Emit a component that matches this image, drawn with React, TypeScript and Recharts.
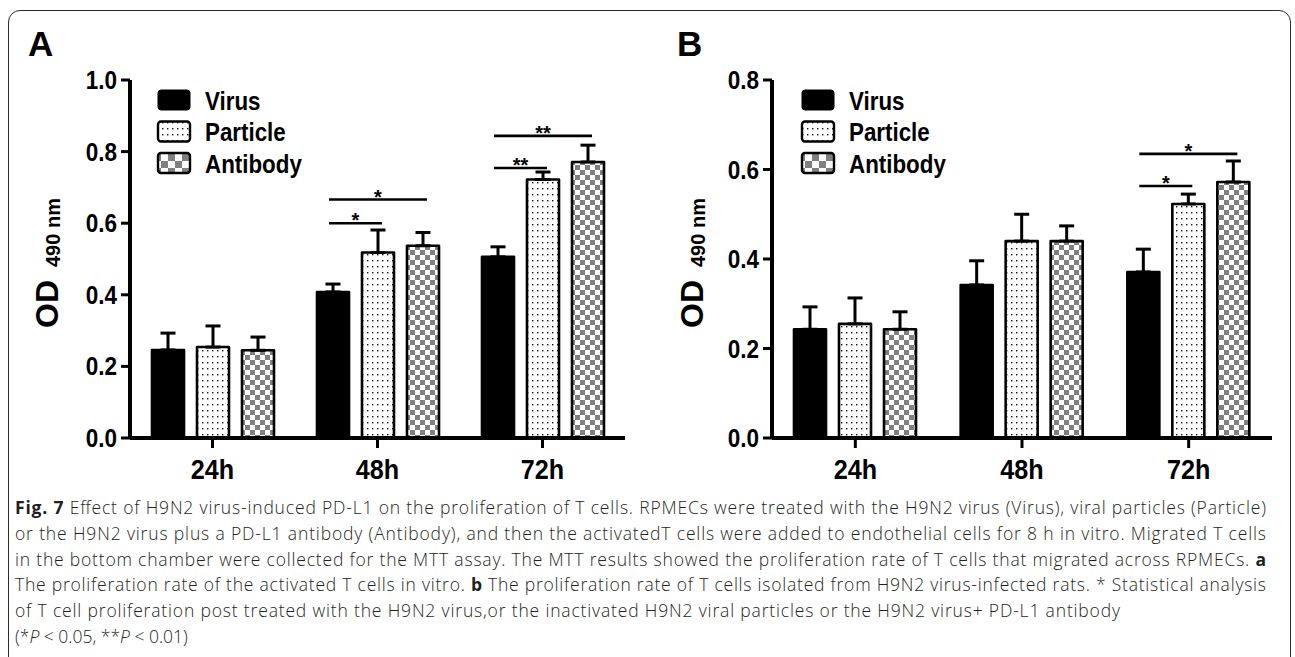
import React from "react";
import { BarChart, Bar, XAxis, YAxis, ErrorBar } from "recharts";

const categories = ["24h", "48h", "72h"];
const seriesNames = ["Virus", "Particle", "Antibody"];

// panel A: activated T cells in vitro
const virusA = [0.246, 0.408, 0.506];
const particleA = [0.254, 0.518, 0.722];
const antibodyA = [0.245, 0.537, 0.771];
const virusErrA = [0.047, 0.022, 0.028];
const particleErrA = [0.059, 0.063, 0.021];
const antibodyErrA = [0.037, 0.037, 0.047];
const ticksA = [0, 0.2, 0.4, 0.6, 0.8, 1.0];

// panel B: T cells from infected rats
const virusB = [0.243, 0.342, 0.371];
const particleB = [0.255, 0.44, 0.523];
const antibodyB = [0.243, 0.44, 0.572];
const virusErrB = [0.05, 0.054, 0.051];
const particleErrB = [0.058, 0.06, 0.022];
const antibodyErrB = [0.039, 0.034, 0.047];
const ticksB = [0, 0.2, 0.4, 0.6, 0.8];

// significance brackets (Virus vs. the other group), level in OD units
const sigA = [
  { cat: "48h", vs: "Particle", level: 0.6, mark: "*" },
  { cat: "48h", vs: "Antibody", level: 0.666, mark: "*" },
  { cat: "72h", vs: "Particle", level: 0.754, mark: "**" },
  { cat: "72h", vs: "Antibody", level: 0.844, mark: "**" },
];
const sigB = [
  { cat: "72h", vs: "Particle", level: 0.563, mark: "*" },
  { cat: "72h", vs: "Antibody", level: 0.635, mark: "*" },
];

const FONT = "'Liberation Sans', Arial, Helvetica, sans-serif";
const CAPTION_FONT = "'Open Sans', 'Noto Sans', sans-serif";
const BAR = 32;
const GAP = 13;

const fills: Record<string, string> = {
  Virus: "#000",
  Particle: "url(#dotsFill)",
  Antibody: "url(#checkFill)",
};
const legendFills: Record<string, string> = {
  Virus: "#000",
  Particle: "url(#dotsFill)",
  Antibody: "url(#checkLegend)",
};

function buildRows(vals: number[][], errs: number[][]) {
  return categories.map((cat, i) => {
    const row: any = { cat };
    seriesNames.forEach((s, k) => {
      row[s] = vals[k][i];
      row[s + "Err"] = [0, errs[k][i]];
    });
    return row;
  });
}

const rowsA = buildRows([virusA, particleA, antibodyA], [virusErrA, particleErrA, antibodyErrA]);
const rowsB = buildRows([virusB, particleB, antibodyB], [virusErrB, particleErrB, antibodyErrB]);

function makeShape(series: string, k: number, sigs: typeof sigA) {
  return (p: any) => {
    const { x, y, width, height, payload } = p;
    const v = payload[series];
    const unit = v ? height / v : 0;
    const base = y + height;
    const mid = x + width / 2;
    const virusMid = mid - k * (width + GAP);
    const marks = sigs.filter((s) => s.cat === payload.cat && s.vs === series);
    return (
      <g>
        <rect
          x={x}
          y={y}
          width={width}
          height={height}
          fill={fills[series]}
          stroke="#000"
          strokeWidth={2.6}
          strokeLinejoin="round"
        />
        {marks.map((s, j) => {
          const ly = base - s.level * unit;
          const x1 = virusMid - 4;
          const x2 = mid + 4;
          return (
            <g key={j}>
              <line x1={x1} x2={x2} y1={ly} y2={ly} stroke="#000" strokeWidth={2.6} />
              <text
                x={(x1 + x2) / 2}
                y={ly + 4}
                textAnchor="middle"
                fontFamily={FONT}
                fontWeight="bold"
                fontSize={20}
                fill="#000"
              >
                {s.mark}
              </text>
            </g>
          );
        })}
      </g>
    );
  };
}

function YTick(p: any) {
  const { x, y, payload } = p;
  return (
    <text
      transform={`translate(${x},${y + 9}) scale(0.9,1)`}
      textAnchor="end"
      fontFamily={FONT}
      fontWeight="bold"
      fontSize={25}
      fill="#000"
    >
      {Number(payload.value).toFixed(1)}
    </text>
  );
}

function XTick(p: any) {
  const { x, y, payload } = p;
  return (
    <text
      transform={`translate(${x},${y + 29}) scale(0.9,1)`}
      textAnchor="middle"
      fontFamily={FONT}
      fontWeight="bold"
      fontSize={28}
      fill="#000"
    >
      {payload.value}
    </text>
  );
}

type PanelProps = {
  data: any[];
  ticks: number[];
  max: number;
  sigs: typeof sigA;
  left: number;
  mLeft: number;
  plotW: number;
};

function Panel({ data, ticks, max, sigs, left, mLeft, plotW }: PanelProps) {
  const W = 644;
  const H = 500;
  return (
    <div style={{ position: "absolute", left, top: 0 }}>
      <BarChart
        width={W}
        height={H}
        data={data}
        margin={{ top: 80, left: mLeft, right: W - mLeft - 60 - plotW, bottom: H - 80 - 358 - 50 }}
        barSize={BAR}
        barGap={GAP}
      >
        <XAxis
          dataKey="cat"
          height={50}
          interval={0}
          tickSize={10}
          axisLine={{ stroke: "#000", strokeWidth: 4 }}
          tickLine={{ stroke: "#000", strokeWidth: 3 }}
          tick={(t: any) => <XTick {...t} />}
        />
        <YAxis
          type="number"
          width={60}
          domain={[0, max]}
          ticks={ticks}
          tickSize={9}
          tickMargin={4}
          axisLine={{ stroke: "#000", strokeWidth: 4 }}
          tickLine={{ stroke: "#000", strokeWidth: 3 }}
          tick={(t: any) => <YTick {...t} />}
        />
        {seriesNames.map((s, k) => (
          <Bar key={s} dataKey={s} isAnimationActive={false} shape={makeShape(s, k, sigs)}>
            <ErrorBar dataKey={s + "Err"} direction="y" width={7.5} stroke="#000" strokeWidth={3} />
          </Bar>
        ))}
      </BarChart>
    </div>
  );
}

function LegendBox({ sx, tx }: { sx: number; tx: number }) {
  const rows = [109.5, 141, 172.5];
  return (
    <g>
      {seriesNames.map((s, k) => (
        <g key={s}>
          <rect
            x={sx}
            y={rows[k] - 19.5}
            width={32}
            height={20}
            rx={3}
            fill={legendFills[s]}
            stroke="#000"
            strokeWidth={k === 0 ? 1 : 2.4}
          />
          <text
            transform={`translate(${tx},${rows[k]}) scale(0.86,1)`}
            fontFamily={FONT}
            fontWeight="bold"
            fontSize={26}
            fill="#000"
          >
            {s}
          </text>
        </g>
      ))}
    </g>
  );
}

function YLabel({ x }: { x: number }) {
  return (
    <text transform={`translate(${x},328) rotate(-90)`} fontFamily={FONT} fontWeight="bold" fill="#000">
      <tspan fontSize={32}>OD</tspan>
      <tspan fontSize={20} dx={13} dy={2}>
        490 nm
      </tspan>
    </text>
  );
}

const captionLines: { t: string; b?: boolean; i?: boolean }[][] = [
  [
    { t: "Fig. 7", b: true },
    { t: " Effect of H9N2 virus-induced PD-L1 on the proliferation of T cells. RPMECs were treated with the H9N2 virus (Virus), viral particles (Particle)" },
  ],
  [{ t: "or the H9N2 virus plus a PD-L1 antibody (Antibody), and then the activatedT cells were added to endothelial cells for 8 h in vitro. Migrated T cells" }],
  [
    { t: "in the bottom chamber were collected for the MTT assay. The MTT results showed the proliferation rate of T cells that migrated across RPMECs. " },
    { t: "a", b: true },
  ],
  [
    { t: "The proliferation rate of the activated T cells in vitro. " },
    { t: "b", b: true },
    { t: " The proliferation rate of T cells isolated from H9N2 virus-infected rats. * Statistical analysis" },
  ],
  [{ t: "of T cell proliferation post treated with the H9N2 virus,or the inactivated H9N2 viral particles or the H9N2 virus+ PD-L1 antibody" }],
  [
    { t: "(*" },
    { t: "P", i: true },
    { t: " < 0.05, **" },
    { t: "P", i: true },
    { t: " < 0.01)" },
  ],
];
const captionWidths = [1251, 1251, 1251, 1251, 1105];

export default function App() {
  return (
    <div
      style={{
        position: "absolute",
        left: 0,
        top: 0,
        width: 1295,
        height: 657,
        overflow: "hidden",
        background: "#fff",
      }}
    >
      <svg width={0} height={0} style={{ position: "absolute" }}>
        <defs>
          <pattern id="dotsFill" width={5} height={6} patternUnits="userSpaceOnUse">
            <rect width={5} height={6} fill="#fff" />
            <rect x={2} y={2} width={1.4} height={1.4} fill="#111" />
          </pattern>
          <pattern id="checkFill" width={10} height={10} patternUnits="userSpaceOnUse">
            <rect width={10} height={10} fill="#fff" />
            <rect width={5} height={5} fill="#808080" />
            <rect x={5} y={5} width={5} height={5} fill="#808080" />
          </pattern>
          <pattern id="checkLegend" width={14} height={14} patternUnits="userSpaceOnUse">
            <rect width={14} height={14} fill="#fff" />
            <rect width={7} height={7} fill="#808080" />
            <rect x={7} y={7} width={7} height={7} fill="#808080" />
          </pattern>
        </defs>
      </svg>

      <div
        style={{
          position: "absolute",
          left: 8,
          top: 10,
          width: 1281,
          height: 720,
          border: "1.5px solid #2b2b2b",
          borderRadius: 12,
        }}
      />

      <Panel data={rowsA} ticks={ticksA} max={1} sigs={sigA} left={0} mLeft={70} plotW={495} />
      <Panel data={rowsB} ticks={ticksB} max={0.8} sigs={sigB} left={644} mLeft={68} plotW={500} />

      <svg
        width={1295}
        height={657}
        style={{ position: "absolute", left: 0, top: 0, pointerEvents: "none" }}
      >
        <text x={28} y={56} fontFamily={FONT} fontWeight="bold" fontSize={35} fill="#000">
          A
        </text>
        <text x={677} y={56} fontFamily={FONT} fontWeight="bold" fontSize={35} fill="#000">
          B
        </text>
        <YLabel x={58} />
        <YLabel x={703} />
        <LegendBox sx={158} tx={205} />
        <LegendBox sx={802} tx={849} />

        {captionLines.map((segs, i) => (
          <text
            key={i}
            x={15}
            y={514 + i * 25.8}
            textLength={i < 5 ? captionWidths[i] : undefined}
            lengthAdjust="spacing"
            fontFamily={CAPTION_FONT}
            fontSize={17.5}
            fontWeight={300}
            fill="#231f20"
            style={{ whiteSpace: "pre" }}
          >
            {segs.map((s, j) => (
              <tspan key={j} fontWeight={s.b ? 700 : undefined} fontStyle={s.i ? "italic" : undefined}>
                {s.t}
              </tspan>
            ))}
          </text>
        ))}
      </svg>
    </div>
  );
}
